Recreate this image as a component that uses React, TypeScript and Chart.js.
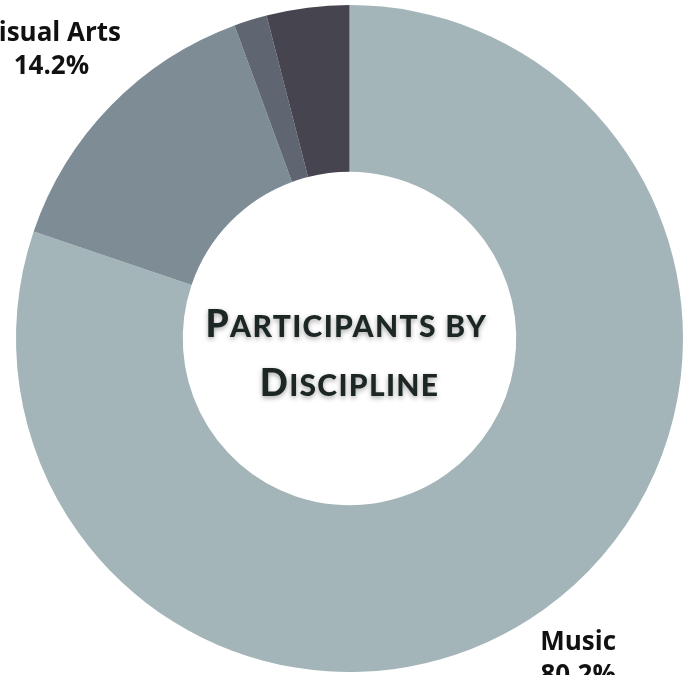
import React, { useEffect, useRef } from "react";
import { Chart, registerables } from "chart.js";

Chart.register(...registerables);

const categories = ["Music", "Visual Arts", "Dance", "Theatre"];
const shares = [80.2, 14.2, 1.6, 4.0];
const sliceColors = ["#a3b5b9", "#7e8c95", "#5f6671", "#45444f"];
const titleLines = ["Participants by", "Discipline"];

const outerLabels = {
  id: "outerLabels",
  afterDatasetsDraw(chart: any) {
    const ctx = chart.ctx;
    const meta = chart.getDatasetMeta(0);
    ctx.save();
    ctx.font = "bold 26px 'Open Sans'";
    ctx.fillStyle = "#111111";
    ctx.textAlign = "center";
    ctx.textBaseline = "alphabetic";
    const lh = 33;
    meta.data.forEach((arc: any, i: number) => {
      const p = arc.getProps(["x", "y", "startAngle", "endAngle", "outerRadius"], true);
      const mid = (p.startAngle + p.endAngle) / 2;
      const dx = Math.cos(mid);
      const dy = Math.sin(mid);
      const lines = [categories[i], shares[i].toFixed(1) + "%"];
      const w = Math.max(...lines.map((l) => ctx.measureText(l).width));
      const h = lh * lines.length;
      const d = p.outerRadius + 10 + (Math.abs(dx) * w) / 2 + (Math.abs(dy) * h) / 2;
      const cx = p.x + dx * d;
      const cy = p.y + dy * d;
      ctx.fillText(lines[0], cx, cy - 7.2);
      ctx.fillText(lines[1], cx, cy + 25.8);
    });
    ctx.restore();
  },
};

const centerTitle = {
  id: "centerTitle",
  afterDraw(chart: any) {
    const ctx = chart.ctx;
    const arc = chart.getDatasetMeta(0).data[0];
    if (!arc) return;
    const cx = arc.x;
    const cy = arc.y;
    const big = "900 37px Lato";
    const small = "900 30px Lato";
    const spacing = 1.3;
    ctx.save();
    ctx.fillStyle = "#1c2725";
    ctx.shadowColor = "rgba(0,0,0,0.35)";
    ctx.shadowBlur = 5;
    ctx.shadowOffsetY = 2;
    ctx.textAlign = "left";
    ctx.textBaseline = "alphabetic";
    const baselines = [cy - 2, cy + 57];
    titleLines.forEach((line, li) => {
      const segs: { t: string; f: string }[] = [];
      line.split(" ").forEach((word, wi) => {
        if (wi > 0) segs.push({ t: " ", f: small });
        if (word.length === 0) return;
        const first = word[0];
        const isUpper = first === first.toUpperCase();
        segs.push({ t: first.toUpperCase(), f: isUpper ? big : small });
        if (word.length > 1) segs.push({ t: word.slice(1).toUpperCase(), f: small });
      });
      (ctx as any).letterSpacing = spacing + "px";
      let total = 0;
      const widths = segs.map((s) => {
        ctx.font = s.f;
        const w = ctx.measureText(s.t).width;
        total += w;
        return w;
      });
      let x = cx - total / 2 - (li === 0 ? 3 : 0);
      segs.forEach((s, si) => {
        ctx.font = s.f;
        ctx.fillText(s.t, x, baselines[li]);
        x += widths[si];
      });
    });
    ctx.restore();
  },
};

export default function App() {
  const ref = useRef<HTMLCanvasElement | null>(null);
  useEffect(() => {
    if (!ref.current) return;
    const chart = new Chart(ref.current, {
      type: "doughnut",
      data: {
        labels: categories,
        datasets: [
          {
            data: shares,
            backgroundColor: sliceColors,
            borderWidth: 0,
            hoverOffset: 0,
          },
        ],
      },
      options: {
        animation: false,
        responsive: false,
        cutout: "50%",
        layout: { padding: 150 },
        plugins: {
          legend: { display: false },
          tooltip: { enabled: false },
        },
      },
      plugins: [outerLabels, centerTitle],
    });
    return () => chart.destroy();
  }, []);
  return (
    <div style={{ position: "fixed", inset: 0, overflow: "hidden", background: "#ffffff" }}>
      <div style={{ position: "absolute", left: -134, top: -145, width: 967, height: 967 }}>
        <canvas ref={ref} width={967} height={967} style={{ width: 967, height: 967 }} />
      </div>
    </div>
  );
}
